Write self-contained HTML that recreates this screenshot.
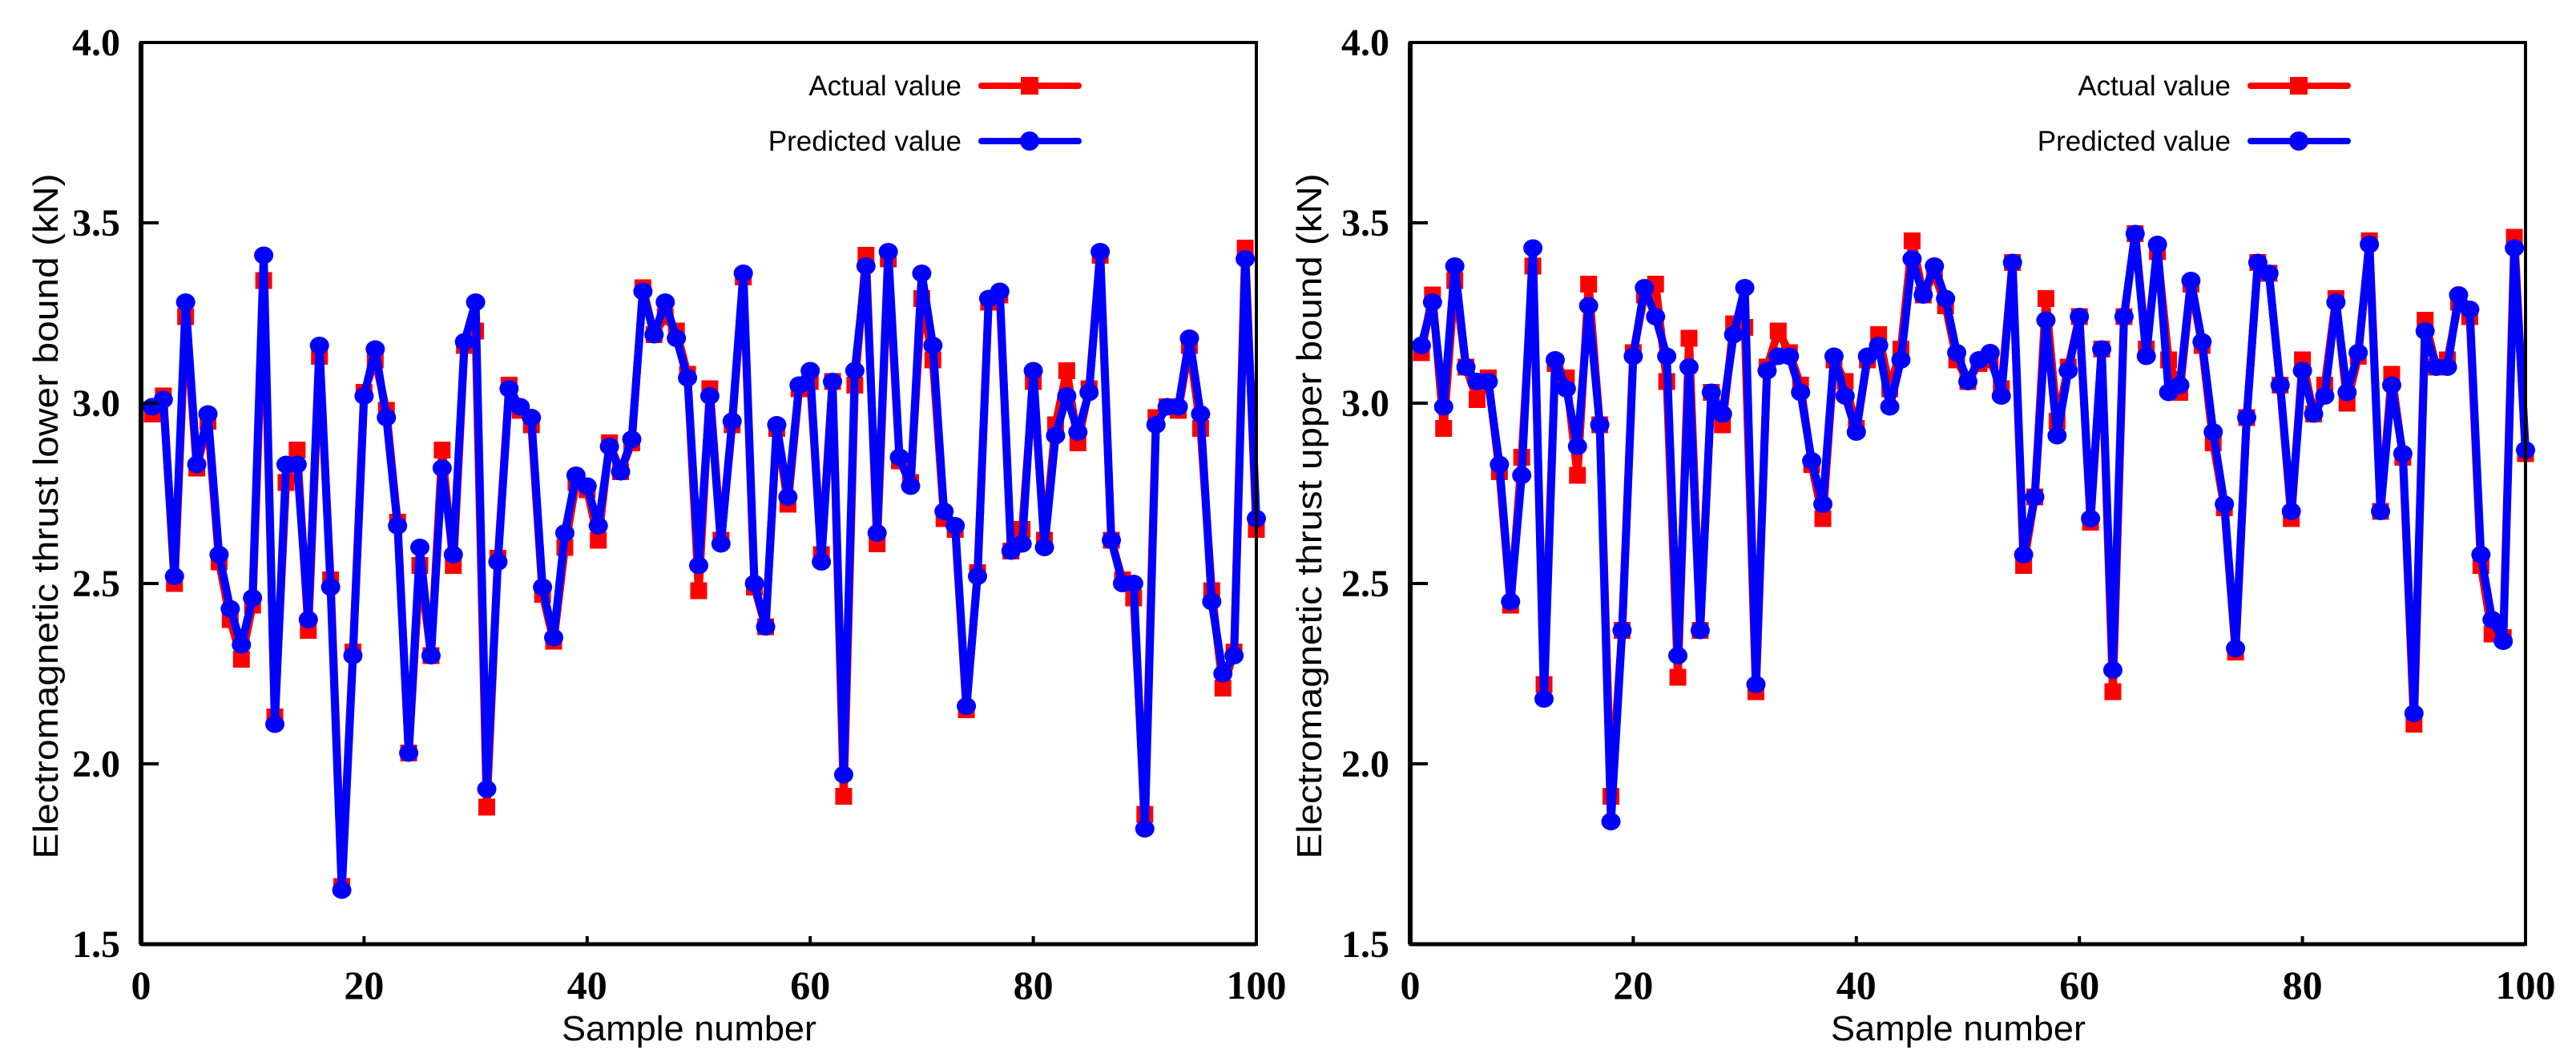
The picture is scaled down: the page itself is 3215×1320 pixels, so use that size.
<!DOCTYPE html>
<html><head><meta charset="utf-8"><style>
html,body{margin:0;padding:0;background:#fff;}
svg{display:block;}
</style></head><body>
<svg id="fig" width="3215" height="1320" viewBox="0 0 3215 1320" xmlns="http://www.w3.org/2000/svg"></svg>
<script>
const samples = Array.from({length:100},(_,i)=>i+1);
const lowerActual = [2.97,3.02,2.50,3.24,2.82,2.95,2.56,2.40,2.29,2.44,3.34,2.13,2.78,2.87,2.37,3.13,2.51,1.66,2.31,3.03,
3.12,2.98,2.67,2.03,2.55,2.30,2.87,2.55,3.16,3.20,1.88,2.57,3.05,2.98,2.94,2.47,2.34,2.60,2.78,2.76,
2.62,2.89,2.81,2.89,3.32,3.19,3.24,3.20,3.08,2.48,3.04,2.62,2.94,3.35,2.49,2.38,2.93,2.72,3.04,3.06,
2.58,3.06,1.91,3.05,3.41,2.61,3.40,2.84,2.78,3.29,3.12,2.68,2.65,2.15,2.53,3.28,3.30,2.59,2.65,3.06,
2.62,2.94,3.09,2.89,3.04,3.41,2.62,2.51,2.46,1.86,2.96,2.99,2.98,3.16,2.93,2.48,2.21,2.31,3.43,2.65];
const lowerPred = [2.99,3.01,2.52,3.28,2.83,2.97,2.58,2.43,2.33,2.46,3.41,2.11,2.83,2.83,2.40,3.16,2.49,1.65,2.30,3.02,
3.15,2.96,2.66,2.03,2.60,2.30,2.82,2.58,3.17,3.28,1.93,2.56,3.04,2.99,2.96,2.49,2.35,2.64,2.80,2.77,
2.66,2.88,2.81,2.90,3.31,3.19,3.28,3.18,3.07,2.55,3.02,2.61,2.95,3.36,2.50,2.38,2.94,2.74,3.05,3.09,
2.56,3.06,1.97,3.09,3.38,2.64,3.42,2.85,2.77,3.36,3.16,2.70,2.66,2.16,2.52,3.29,3.31,2.59,2.61,3.09,
2.60,2.91,3.02,2.92,3.03,3.42,2.62,2.50,2.50,1.82,2.94,2.99,2.99,3.18,2.97,2.45,2.25,2.30,3.40,2.68];
const upperActual = [3.14,3.30,2.93,3.34,3.10,3.01,3.07,2.81,2.44,2.85,3.38,2.22,3.11,3.07,2.80,3.33,2.94,1.91,2.37,3.14,
3.30,3.33,3.06,2.24,3.18,2.37,3.03,2.94,3.22,3.21,2.20,3.10,3.20,3.14,3.05,2.83,2.68,3.12,3.06,2.93,
3.12,3.19,3.04,3.15,3.45,3.30,3.36,3.27,3.12,3.06,3.11,3.12,3.04,3.39,2.55,2.74,3.29,2.95,3.10,3.24,
2.67,3.15,2.20,3.24,3.47,3.15,3.42,3.12,3.03,3.33,3.16,2.89,2.71,2.31,2.96,3.39,3.36,3.05,2.68,3.12,
2.97,3.05,3.29,3.00,3.13,3.45,2.70,3.08,2.85,2.11,3.23,3.10,3.12,3.28,3.24,2.55,2.36,2.35,3.46,2.86];
const upperPred = [3.16,3.28,2.99,3.38,3.10,3.06,3.06,2.83,2.45,2.80,3.43,2.18,3.12,3.04,2.88,3.27,2.94,1.84,2.37,3.13,
3.32,3.24,3.13,2.30,3.10,2.37,3.03,2.97,3.19,3.32,2.22,3.09,3.13,3.13,3.03,2.84,2.72,3.13,3.02,2.92,
3.13,3.16,2.99,3.12,3.40,3.30,3.38,3.29,3.14,3.06,3.12,3.14,3.02,3.39,2.58,2.74,3.23,2.91,3.09,3.24,
2.68,3.15,2.26,3.24,3.47,3.13,3.44,3.03,3.05,3.34,3.17,2.92,2.72,2.32,2.96,3.39,3.36,3.05,2.70,3.09,
2.97,3.02,3.28,3.03,3.14,3.44,2.70,3.05,2.86,2.14,3.20,3.10,3.10,3.30,3.26,2.58,2.40,2.34,3.43,2.87];
const yTicks = [1.5,2.0,2.5,3.0,3.5,4.0];
const yTickLabels = ["1.5","2.0","2.5","3.0","3.5","4.0"];
const xTicks = [0,20,40,60,80,100];
const xTickLabels = ["0","20","40","60","80","100"];

const NS = "http://www.w3.org/2000/svg";
const svg = document.getElementById('fig');
function mk(tag, attrs, parent){
  const e = document.createElementNS(NS, tag);
  for (const k in attrs) e.setAttribute(k, attrs[k]);
  (parent||svg).appendChild(e);
  return e;
}

function drawPanel(off, key, title, actual, pred){
  const g = mk('g', {});
  
  
  const L = 176 + off, R = 1568 + off, T = 53, B = 1178;
  const xs = v => L + (v - 0) / 100 * (R - L);
  const ys = v => B - (v - 1.5) / 2.5 * (B - T);

  // series lines
  const mkLine = (vals, color, name) => {
    const pts = samples.map((s,i)=> xs(s).toFixed(1)+','+ys(vals[i]).toFixed(1)).join(' ');
    const pl = mk('polyline', {points: pts, fill:'none', stroke: color, 'stroke-width': 10, 'stroke-linejoin':'round'}, g);
    
    
  };
  mkLine(actual, '#ff0000', key + '-actual-line');
  samples.forEach((s,i)=>{
    const r = mk('rect', {x: xs(s)-10.5, y: ys(actual[i])-10.5, width:21, height:21, fill:'#ff0000'}, g);
    
    
  });
  mkLine(pred, '#0000ff', key + '-predicted-line');
  samples.forEach((s,i)=>{
    const c = mk('ellipse', {cx: xs(s), cy: ys(pred[i]), rx:12, ry:11, fill:'#0000ff'}, g);
    
    
  });

  // frame
  const fr = mk('rect', {x:L, y:T, width:R-L, height:B-T, fill:'none', stroke:'#000', 'stroke-width':4}, g);
  
  
  const la = mk('line', {x1:L, y1:T, x2:L, y2:B, stroke:'#000', 'stroke-width':6}, g);
  
  
  const ba = mk('line', {x1:L, y1:B, x2:R, y2:B, stroke:'#000', 'stroke-width':5}, g);
  
  

  yTicks.forEach((v,i)=>{
    if (i>0 && i<yTicks.length-1){
      const tk = mk('line', {x1:L, y1:ys(v), x2:L+22, y2:ys(v), stroke:'#000', 'stroke-width':4}, g);
      
      
    }
    const t = mk('text', {x: L-26, y: ys(v)+16, 'text-anchor':'end', 'font-family':'"Liberation Serif", serif', 'font-weight':'bold', 'font-size':48}, g);
    t.textContent = yTickLabels[i];
    
    
  });
  xTicks.forEach((v,i)=>{
    if (i>0 && i<xTicks.length-1){
      const tk = mk('line', {x1:xs(v), y1:B, x2:xs(v), y2:B-10, stroke:'#000', 'stroke-width':4}, g);
      
      
    }
    const t = mk('text', {x: xs(v), y: 1246, 'text-anchor':'middle', 'font-family':'"Liberation Serif", serif', 'font-weight':'bold', 'font-size':50}, g);
    t.textContent = xTickLabels[i];
    
    
  });

  const xt = mk('text', {x: 860+off, y: 1298, 'text-anchor':'middle', 'font-family':'"Liberation Sans", sans-serif', 'font-size':44, textLength:318, lengthAdjust:'spacingAndGlyphs'}, g);
  xt.textContent = 'Sample number';
  
  

  const yx = (off===0) ? 57 : 1634;
  const yt = mk('text', {x:0, y:0, 'text-anchor':'middle', 'font-family':'"Liberation Sans", sans-serif', 'font-size':44, textLength:855, lengthAdjust:'spacingAndGlyphs', transform:`translate(${yx+15},644) rotate(-90)`}, g);
  yt.textContent = title;
  
  

  // legend
  const lg = mk('g', {}, g);
  
  
  const l1 = mk('text', {x:1200+off, y:119, 'text-anchor':'end', 'font-family':'"Liberation Sans", sans-serif', 'font-size':35}, lg);
  l1.textContent = 'Actual value';
  
  
  const l2 = mk('text', {x:1200+off, y:188, 'text-anchor':'end', 'font-family':'"Liberation Sans", sans-serif', 'font-size':35}, lg);
  l2.textContent = 'Predicted value';
  
  
  const s1 = mk('line', {x1:1225+off, y1:107, x2:1346+off, y2:107, stroke:'#ff0000', 'stroke-width':8, 'stroke-linecap':'round'}, lg);
  
  
  mk('rect', {x:1274+off, y:96, width:22, height:22, fill:'#ff0000'}, lg);
  const s2 = mk('line', {x1:1225+off, y1:176, x2:1346+off, y2:176, stroke:'#0000ff', 'stroke-width':8, 'stroke-linecap':'round'}, lg);
  
  
  mk('circle', {cx:1285+off, cy:176, r:12, fill:'#0000ff'}, lg);
}

drawPanel(0, 'lower-bound', 'Electromagnetic thrust lower bound  (kN)', lowerActual, lowerPred);
drawPanel(1584, 'upper-bound', 'Electromagnetic thrust upper bound  (kN)', upperActual, upperPred);
</script>
</body></html>
